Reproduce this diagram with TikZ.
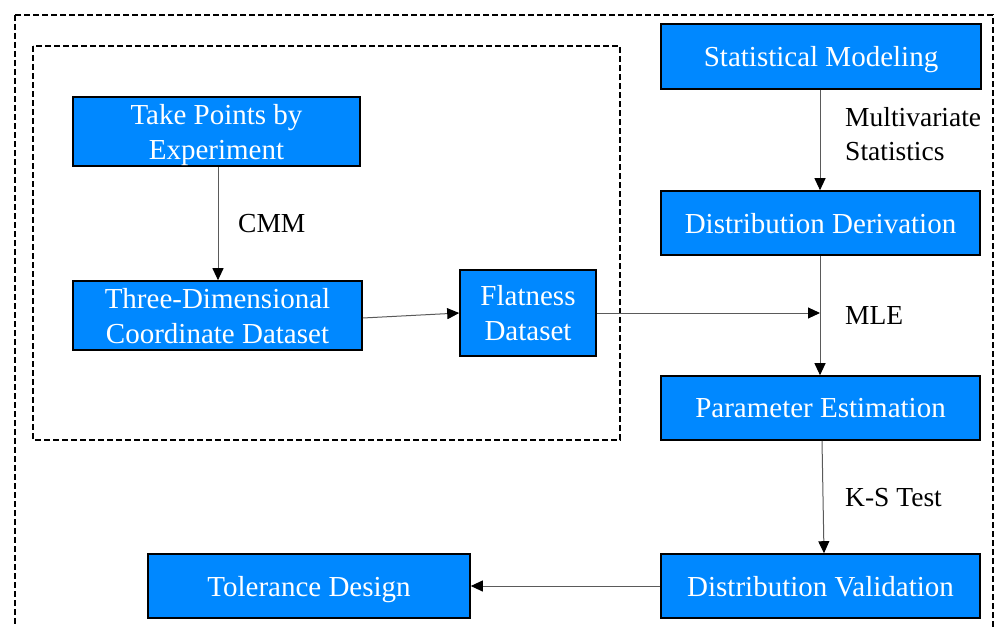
\documentclass[tikz,border=0pt]{standalone}
\usepackage{fontspec}
\setmainfont{Liberation Serif}
\usetikzlibrary{arrows.meta}
\definecolor{boxblue}{RGB}{0,136,255}
\definecolor{linegray}{RGB}{90,90,90}
\tikzset{
  bluebox/.style={draw=black, line width=1.6pt, fill=boxblue, text=white, align=center,
    font=\fontsize{29}{35}\selectfont, inner sep=0pt, text depth=0pt},
  lbl/.style={font=\fontsize{27.5}{34}\selectfont, align=left, inner sep=0pt, text=black},
  conn/.style={draw=linegray, line width=1pt, -{Triangle[length=12pt,width=11pt,fill=black,color=black]}},
  frame/.style={draw=black, line width=1.6pt, dash pattern=on 6pt off 3pt}
}
\begin{document}
\begin{tikzpicture}[x=1pt,y=-1pt]
\useasboundingbox (0,0) rectangle (995,626);
\clip (0,0) rectangle (995,626);
% frames
\draw[frame] (15,15) rectangle (993,660);
\draw[frame] (33,46) rectangle (620,440);
% boxes
\node[bluebox, minimum width=287pt, minimum height=69pt] (take) at (216.5,131.5) {Take Points by\\Experiment};
\node[bluebox, minimum width=289pt, minimum height=69pt] (three) at (217.5,315.5) {Three-Dimensional\\Coordinate Dataset};
\node[bluebox, minimum width=136pt, minimum height=86pt] (flat) at (528,313) {Flatness\\Dataset};
\node[bluebox, minimum width=320pt, minimum height=65pt] (stat) at (821,56.5) {Statistical Modeling};
\node[bluebox, minimum width=319pt, minimum height=64pt] (deriv) at (820.5,223) {Distribution Derivation};
\node[bluebox, minimum width=319pt, minimum height=64pt] (param) at (820.5,408) {Parameter Estimation};
\node[bluebox, minimum width=319pt, minimum height=64pt] (valid) at (820.5,586) {Distribution Validation};
\node[bluebox, minimum width=322pt, minimum height=64pt] (tol) at (309,586) {Tolerance Design};
% connectors
\coordinate (mle) at (820,313);
\draw[conn] (take.south -| 218,0) -- (three.north -| 218,0);
\draw[conn] (three.east |- 0,318) -- (flat.west |- 0,313);
\draw[conn] (flat.east |- 0,313) -- (mle);
\draw[conn] (stat.south -| 820,0) -- (deriv.north -| 820,0);
\draw[conn] (deriv.south -| 820,0) -- (param.north -| 820,0);
\draw[conn] (param.south -| 822,0) -- (valid.north -| 824,0);
\draw[conn] (valid.west) -- (tol.east);
% labels
\node[lbl, anchor=west] (cmm) at (238,224) {CMM};
\node[lbl, anchor=west] (multi) at (845,134) {Multivariate\\Statistics};
\node[lbl, anchor=west] (mlelbl) at (845,315) {MLE};
\node[lbl, anchor=west] (ks) at (845,498) {K-S Test};
\end{tikzpicture}
\end{document}
